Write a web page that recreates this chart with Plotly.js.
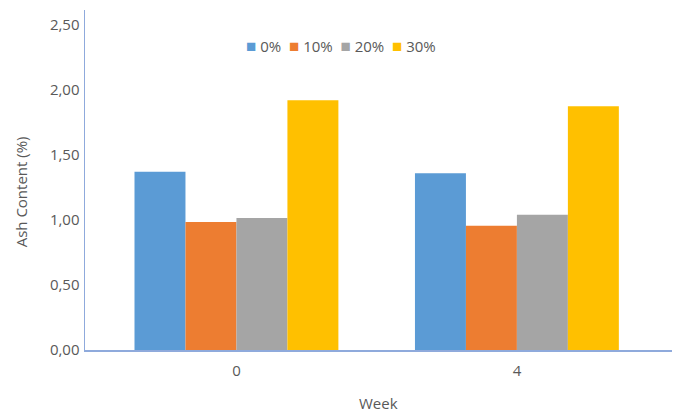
<!DOCTYPE html>
<html>
<head>
<meta charset="utf-8">
<script src="https://cdn.plot.ly/plotly-3.0.1.min.js"></script>
<style>
  html, body { margin: 0; padding: 0; background: #ffffff; }
  #chart { width: 675px; height: 412px; }
</style>
</head>
<body>
<div id="chart"></div>
<script>
// Ash content by storage week and substitution level
const weeks = ['0', '4'];
const levels = ['0%', '10%', '20%', '30%'];
const ash0 = [1.37, 1.36];
const ash10 = [0.985, 0.955];
const ash20 = [1.015, 1.04];
const ash30 = [1.92, 1.875];
const colors = ['#5B9BD5', '#ED7D31', '#A5A5A5', '#FFC000'];
const yTicks = [0, 0.5, 1.0, 1.5, 2.0, 2.5];

const series = [ash0, ash10, ash20, ash30];
const textColor = '#595959';
const fontFamily = '"Open Sans", "Noto Sans", sans-serif';

const traces = series.map((vals, i) => ({
  type: 'bar',
  name: levels[i],
  x: weeks,
  y: vals,
  marker: { color: colors[i], line: { width: 0 } },
  hoverinfo: 'x+y+name'
}));

// Compact legend row built from the level names and colours
const legendText = levels.map((lv, i) =>
  '<span style="color:' + colors[i] + ';font-size:17px">\u25A0</span> ' + lv
).join('  ');

const layout = {
  width: 675,
  height: 412,
  margin: { l: 85, r: 3, t: 10, b: 62 },
  paper_bgcolor: '#ffffff',
  plot_bgcolor: '#ffffff',
  separators: ',.',
  font: { family: fontFamily, size: 15, color: textColor },
  barmode: 'group',
  bargap: 0.273,
  bargroupgap: 0,
  showlegend: false,
  xaxis: {
    type: 'category',
    range: [-0.54, 1.553],
    showline: true,
    linecolor: '#8FAADC',
    linewidth: 1.5,
    showgrid: false,
    zeroline: false,
    ticks: '',
    ticklabelstandoff: 6,
    tickfont: { family: fontFamily, size: 15, color: textColor }
  },
  yaxis: {
    range: [0, 2.615],
    tickvals: yTicks,
    tickformat: '.2f',
    showline: true,
    linecolor: '#8FAADC',
    linewidth: 1.5,
    showgrid: false,
    zeroline: false,
    ticks: '',
    ticklabelstandoff: 1,
    tickfont: { family: fontFamily, size: 15, color: textColor }
  },
  annotations: [
    {
      text: legendText,
      xref: 'paper', yref: 'paper',
      x: 0.436, y: 0.897,
      xanchor: 'center', yanchor: 'middle',
      showarrow: false,
      font: { family: fontFamily, size: 15, color: textColor }
    },
    {
      text: 'Ash Content (%)',
      xref: 'paper', yref: 'paper',
      x: -0.11, y: 0.465,
      xanchor: 'center', yanchor: 'middle',
      textangle: -90,
      showarrow: false,
      font: { family: fontFamily, size: 15, color: textColor }
    },
    {
      text: 'Week',
      xref: 'paper', yref: 'paper',
      x: 0.5, y: -0.156,
      xanchor: 'center', yanchor: 'middle',
      showarrow: false,
      font: { family: fontFamily, size: 15, color: textColor }
    }
  ]
};

Plotly.newPlot('chart', traces, layout, { staticPlot: true, displayModeBar: false });
</script>
</body>
</html>
